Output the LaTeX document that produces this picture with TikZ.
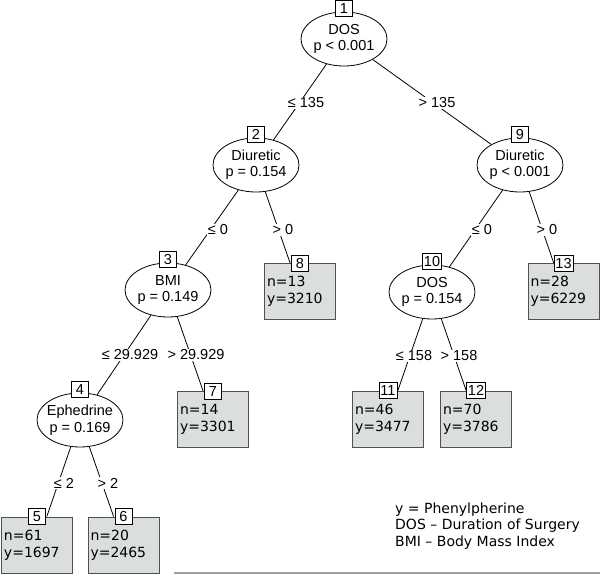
\documentclass[tikz,border=0pt]{standalone}
\usepackage{fontspec}
\setmainfont{Liberation Sans}
\newfontfamily\lucida{DejaVu Sans}
\usetikzlibrary{shapes.geometric}
\definecolor{leaffill}{RGB}{218,222,222}
\definecolor{leafline}{RGB}{80,80,80}
\definecolor{rulegray}{RGB}{160,160,160}
\begin{document}
\begin{tikzpicture}[x=1pt,y=-1pt,
 inner/.style={ellipse,draw,line width=0.8pt,minimum width=86pt,minimum height=54pt,inner xsep=-8pt,inner ysep=-4pt,align=center,font=\fontsize{14.5}{16.5}\selectfont},
 leaf/.style={rectangle,draw=leafline,fill=leaffill,line width=0.9pt,minimum width=71pt,minimum height=56pt,inner sep=2pt,text width=66pt,align=left,font=\lucida\fontsize{14}{17}\selectfont},
 idbox/.style={rectangle,draw,fill=white,line width=0.8pt,minimum width=17pt,minimum height=16pt,inner sep=1.5pt,font=\fontsize{14.5}{16}\selectfont},
 elabel/.style={fill=white,inner sep=1pt,font=\fontsize{14.5}{16}\selectfont},
 edge/.style={line width=0.8pt}]
\useasboundingbox (0,0) rectangle (600,575);
% inner nodes
\node[inner] (n1) at (344,39) {DOS\\p < 0.001};
\node[inner] (n2) at (256,165) {Diuretic\\p = 0.154};
\node[inner] (n3) at (168,290) {BMI\\p = 0.149};
\node[inner] (n4) at (80,420) {Ephedrine\\p = 0.169};
\node[inner] (n9) at (520,165) {Diuretic\\p < 0.001};
\node[inner] (n10) at (432,292) {DOS\\p = 0.154};
% leaves
\node[leaf] (n5) at (37,545) {n=61\\y=1697};
\node[leaf] (n6) at (123.5,545) {n=20\\y=2465};
\node[leaf] (n7) at (213,419.5) {n=14\\y=3301};
\node[leaf] (n8) at (300,291.5) {n=13\\y=3210};
\node[leaf] (n11) at (388,419) {n=46\\y=3477};
\node[leaf] (n12) at (476,419) {n=70\\y=3786};
\node[leaf] (n13) at (563.5,291.5) {n=28\\y=6229};
% edges
\draw[edge] (n1) -- (n2);
\draw[edge] (n1) -- (n9);
\draw[edge] (n2) -- (n3);
\draw[edge] (n2) -- (n8);
\draw[edge] (n3) -- (n4);
\draw[edge] (n3) -- (n7);
\draw[edge] (n4) -- (n5);
\draw[edge] (n4) -- (n6);
\draw[edge] (n9) -- (n10);
\draw[edge] (n9) -- (n13);
\draw[edge] (n10) -- (n11);
\draw[edge] (n10) -- (n12);
% edge labels
\node[elabel] (l12) at (306,103) {≤ 135};
\node[elabel] (l19) at (437,103) {> 135};
\node[elabel] (l23) at (218,230) {≤ 0};
\node[elabel] (l28) at (283,230) {> 0};
\node[elabel] (l34) at (130,355) {≤ 29.929};
\node[elabel] (l37) at (196,355) {> 29.929};
\node[elabel] (l45) at (64,483) {≤ 2};
\node[elabel] (l46) at (108,483) {> 2};
\node[elabel] (l910) at (482,230) {≤ 0};
\node[elabel] (l913) at (547,230) {> 0};
\node[elabel] (l1011) at (414,356) {≤ 158};
\node[elabel] (l1012) at (459,356) {> 158};
% id boxes
\node[idbox] (b1) at ([yshift=3pt]n1.north) {1};
\node[idbox] (b2) at ([yshift=3pt]n2.north) {2};
\node[idbox] (b3) at ([yshift=3pt]n3.north) {3};
\node[idbox] (b4) at ([yshift=3pt]n4.north) {4};
\node[idbox] (b9) at ([yshift=3pt]n9.north) {9};
\node[idbox] (b10) at ([yshift=3pt]n10.north) {10};
\node[idbox] (b5) at (n5.north) {5};
\node[idbox] (b6) at (n6.north) {6};
\node[idbox] (b7) at (n7.north) {7};
\node[idbox] (b8) at (n8.north) {8};
\node[idbox] (b11) at (n11.north) {11};
\node[idbox] (b12) at (n12.north) {12};
\node[idbox] (b13) at (n13.north) {13};
% legend
\node[anchor=west,align=left,inner sep=0pt,font=\lucida\fontsize{14}{16.5}\selectfont] (legend) at (395,526) {y = Phenylpherine\\DOS – Duration of Surgery\\BMI – Body Mass Index};
\coordinate (rl) at (174,573);
\coordinate (rr) at (600,573);
\draw[rulegray,line width=1.5pt] (rl) -- (rr);
\end{tikzpicture}
\end{document}
